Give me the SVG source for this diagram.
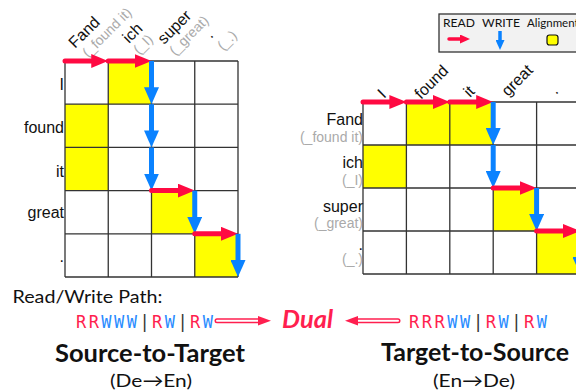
<svg xmlns="http://www.w3.org/2000/svg" width="576" height="392" viewBox="0 0 576 392">
  <style>
    .cell { fill: #ffffff; }
    .align { fill: #ffff00; }
    .grid { stroke: #333333; stroke-width: 1.3; fill: none; }
    .lbl { font-family: "Liberation Sans", Arial, sans-serif; font-size: 16px; fill: #111111; }
    .gloss { font-family: "Liberation Sans", Arial, sans-serif; font-size: 14px; fill: #aaaaaa; }
    .gloss-r { font-family: "Liberation Sans", Arial, sans-serif; font-size: 14px; fill: #aaaaaa; }
    .read { stroke: #ff0a42; stroke-width: 5; fill: none; stroke-linecap: round; marker-end: url(#headRead); }
    .write { stroke: #0a82ff; stroke-width: 5; fill: none; marker-end: url(#headWrite); }
    .gill { font-family: Lato, "Open Sans", sans-serif; fill: #111111; }
    .mono { font-family: "DejaVu Sans Mono", "Liberation Mono", monospace; font-size: 17px; }
    .r { fill: #ff1f4f; }
    .w { fill: #2a8cff; }
    .bar { fill: #333333; }
    .dbl-out { stroke: #ff1f4f; stroke-width: 5; stroke-linecap: round; fill: none; }
    .dbl-in { stroke: #ffffff; stroke-width: 2; stroke-linecap: round; fill: none; }
    .dbl-head { fill: #ff1f4f; }
  </style>
  <defs>
    <marker id="headRead" markerUnits="userSpaceOnUse" viewBox="0 0 17 14" markerWidth="17" markerHeight="14" refX="6" refY="7" orient="auto">
      <path d="M0,0 L17,7 L0,14 z" fill="#ff0a42"/>
    </marker>
    <marker id="headWrite" markerUnits="userSpaceOnUse" viewBox="0 0 17 15" markerWidth="17" markerHeight="15" refX="6" refY="7.5" orient="auto">
      <path d="M0,0 L17,7.5 L0,15 z" fill="#0a82ff"/>
    </marker>
    <marker id="legRead" markerUnits="userSpaceOnUse" viewBox="0 0 10 9" markerWidth="10" markerHeight="9" refX="4" refY="4.5" orient="auto">
      <path d="M0,0 L10,4.5 L0,9 z" fill="#ff0a42"/>
    </marker>
    <marker id="legWrite" markerUnits="userSpaceOnUse" viewBox="0 0 10 9" markerWidth="10" markerHeight="9" refX="4" refY="4.5" orient="auto">
      <path d="M0,0 L10,4.5 L0,9 z" fill="#0a82ff"/>
    </marker>
  </defs>

  <!-- Source-to-Target grid: source words across, target words down -->
  <g id="grid-s2t">
    <rect class="cell" x="65" y="61" width="173" height="216"/>
    <rect class="align" x="108.25" y="61" width="43.25" height="43.2"/>
    <rect class="align" x="65" y="104.2" width="43.25" height="43.2"/>
    <rect class="align" x="65" y="147.4" width="43.25" height="43.2"/>
    <rect class="align" x="151.5" y="190.6" width="43.25" height="43.2"/>
    <rect class="align" x="194.75" y="233.8" width="43.25" height="43.2"/>
    <path class="grid" d="M65,61 V277 M108.25,61 V277 M151.5,61 V277 M194.75,61 V277 M238,61 V277 M65,61 H238 M65,104.2 H238 M65,147.4 H238 M65,190.6 H238 M65,233.8 H238 M65,277 H238"/>
    <g class="lbl" text-anchor="end">
      <text x="64" y="90">I</text>
      <text x="64" y="133">found</text>
      <text x="64" y="177">it</text>
      <text x="64" y="218">great</text>
      <text x="64" y="262">.</text>
    </g>
    <g class="lbl">
      <text transform="translate(75,49) rotate(-45)">Fand</text>
      <text transform="translate(129,44) rotate(-45)">ich</text>
      <text transform="translate(164,45) rotate(-45)">super</text>
      <text transform="translate(211,39) rotate(-45)">.</text>
    </g>
    <g class="gloss-r">
      <text transform="translate(88,58) rotate(-45)">(_found it)</text>
      <text transform="translate(139,55) rotate(-45)">(_I)</text>
      <text transform="translate(175,56) rotate(-45)">(_great)</text>
      <text transform="translate(223,51) rotate(-45)">(_.)</text>
    </g>
  </g>

  <!-- Target-to-Source grid: target words across, source words down -->
  <g id="grid-t2s">
    <rect class="cell" x="363" y="102" width="217" height="172"/>
    <rect class="align" x="406.4" y="102" width="43.4" height="43"/>
    <rect class="align" x="449.8" y="102" width="43.4" height="43"/>
    <rect class="align" x="363" y="145" width="43.4" height="43"/>
    <rect class="align" x="493.2" y="188" width="43.4" height="43"/>
    <rect class="align" x="536.6" y="231" width="43.4" height="43"/>
    <path class="grid" d="M363,102 V274 M406.4,102 V274 M449.8,102 V274 M493.2,102 V274 M536.6,102 V274 M580,102 V274 M363,102 H580 M363,145 H580 M363,188 H580 M363,231 H580 M363,274 H580"/>
    <g class="lbl" text-anchor="end">
      <text x="363" y="125">Fand</text>
      <text x="363" y="168">ich</text>
      <text x="363" y="211.5">super</text>
      <text x="363" y="250">.</text>
    </g>
    <g class="gloss" text-anchor="end">
      <text x="363" y="142">(_found it)</text>
      <text x="363" y="185">(_I)</text>
      <text x="363" y="228">(_great)</text>
      <text x="363" y="264">(_.)</text>
    </g>
    <g class="lbl">
      <text transform="translate(384,99) rotate(-45)">I</text>
      <text transform="translate(421,100) rotate(-45)">found</text>
      <text transform="translate(470,98) rotate(-45)">it</text>
      <text transform="translate(508,97) rotate(-45)">great</text>
      <text transform="translate(556,95) rotate(-45)">.</text>
    </g>
  </g>

  <!-- READ / WRITE paths through both grids -->
  <g id="paths">
    <line class="read" x1="65" y1="61" x2="97.25" y2="61"/>
    <line class="read" x1="108.25" y1="61" x2="140.5" y2="61"/>
    <line class="write" x1="151.5" y1="61" x2="151.5" y2="93.2"/>
    <line class="write" x1="151.5" y1="104.2" x2="151.5" y2="136.4"/>
    <line class="write" x1="151.5" y1="147.4" x2="151.5" y2="179.6"/>
    <line class="read" x1="151.5" y1="190.6" x2="183.75" y2="190.6"/>
    <line class="write" x1="194.75" y1="190.6" x2="194.75" y2="222.8"/>
    <line class="read" x1="194.75" y1="233.8" x2="227" y2="233.8"/>
    <line class="write" x1="238" y1="233.8" x2="238" y2="266"/>

    <line class="read" x1="363" y1="102" x2="395.4" y2="102"/>
    <line class="read" x1="406.4" y1="102" x2="438.8" y2="102"/>
    <line class="read" x1="449.8" y1="102" x2="482.2" y2="102"/>
    <line class="write" x1="493.2" y1="102" x2="493.2" y2="134"/>
    <line class="write" x1="493.2" y1="145" x2="493.2" y2="177"/>
    <line class="read" x1="493.2" y1="188" x2="525.6" y2="188"/>
    <line class="write" x1="536.6" y1="188" x2="536.6" y2="220"/>
    <line class="read" x1="536.6" y1="231" x2="569" y2="231"/>
    <line class="write" x1="580" y1="231" x2="580" y2="263"/>
  </g>

  <!-- Legend -->
  <g id="legend">
    <rect x="439" y="14" width="150" height="38" fill="#f2f2f2" stroke="#333333" stroke-width="1.3"/>
    <g class="gill" font-size="11.5">
      <text x="443" y="27" textLength="32" lengthAdjust="spacingAndGlyphs">READ</text>
      <text x="482" y="27" textLength="38" lengthAdjust="spacingAndGlyphs">WRITE</text>
      <text x="527" y="27">Alignment</text>
    </g>
    <line x1="449" y1="39" x2="464" y2="39" stroke="#ff0a42" stroke-width="3.5" stroke-linecap="round" marker-end="url(#legRead)"/>
    <line x1="500" y1="31" x2="500" y2="44" stroke="#0a82ff" stroke-width="3.5" marker-end="url(#legWrite)"/>
    <rect x="547" y="35" width="11" height="10" rx="2.5" fill="#ffff00" stroke="#111111" stroke-width="1.2"/>
  </g>

  <!-- Read/Write path summary -->
  <g id="summary">
    <text class="gill" x="12.5" y="303" font-size="18" textLength="150" lengthAdjust="spacingAndGlyphs">Read/Write Path:</text>
    <text class="mono" x="76" y="327.5" textLength="137" lengthAdjust="spacing"><tspan class="r">RR</tspan><tspan class="w">WWW</tspan><tspan class="bar">|</tspan><tspan class="r">R</tspan><tspan class="w">W</tspan><tspan class="bar">|</tspan><tspan class="r">R</tspan><tspan class="w">W</tspan></text>
    <text class="mono" x="409" y="327.5" textLength="138" lengthAdjust="spacing"><tspan class="r">RRR</tspan><tspan class="w">WW</tspan><tspan class="bar">|</tspan><tspan class="r">R</tspan><tspan class="w">W</tspan><tspan class="bar">|</tspan><tspan class="r">R</tspan><tspan class="w">W</tspan></text>

    <line class="dbl-out" x1="217" y1="320.7" x2="260" y2="320.7"/>
    <line class="dbl-in" x1="217" y1="320.7" x2="260" y2="320.7"/>
    <path class="dbl-head" d="M258,316 L271,320.7 L258,325.4 z"/>

    <line class="dbl-out" x1="355" y1="320.7" x2="398" y2="320.7"/>
    <line class="dbl-in" x1="355" y1="320.7" x2="398" y2="320.7"/>
    <path class="dbl-head" d="M358,316 L345,320.7 L358,325.4 z"/>

    <text x="282" y="328" font-family="Lato, 'Open Sans', sans-serif" font-size="25" font-weight="bold" font-style="italic" fill="#ff1f4f" textLength="51" lengthAdjust="spacingAndGlyphs">Dual</text>

    <text class="gill" x="55" y="362" font-size="25" font-weight="bold" textLength="190" lengthAdjust="spacingAndGlyphs">Source-to-Target</text>
    <text class="gill" x="110" y="387" font-size="18" textLength="82" lengthAdjust="spacingAndGlyphs">(De→En)</text>
    <text class="gill" x="381" y="361" font-size="25" font-weight="bold" textLength="188" lengthAdjust="spacingAndGlyphs">Target-to-Source</text>
    <text class="gill" x="433" y="387" font-size="18" textLength="82" lengthAdjust="spacingAndGlyphs">(En→De)</text>
  </g>
</svg>
